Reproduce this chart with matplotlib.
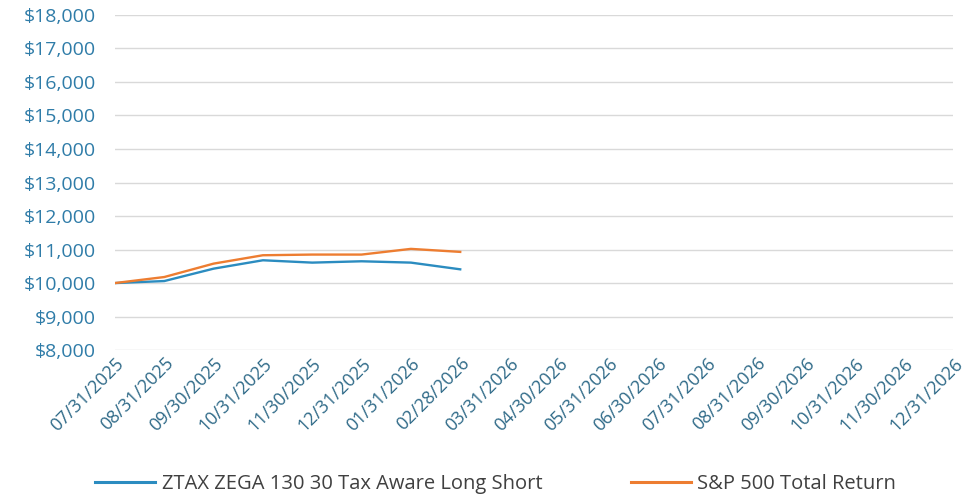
import matplotlib.pyplot as plt

# Datos del gráfico (valor de $10,000 invertidos)
fechas = ['07/31/2025', '08/31/2025', '09/30/2025', '10/31/2025', '11/30/2025', '12/31/2025',
          '01/31/2026', '02/28/2026', '03/31/2026', '04/30/2026', '05/31/2026', '06/30/2026',
          '07/31/2026', '08/31/2026', '09/30/2026', '10/31/2026', '11/30/2026', '12/31/2026']
ztax = [10000, 10060, 10430, 10680, 10610, 10650, 10610, 10410]
sp500 = [10000, 10180, 10580, 10830, 10850, 10850, 11020, 10930]
y_ticks = list(range(8000, 18001, 1000))

plt.rcParams['font.family'] = ['Open Sans', 'DejaVu Sans']

fig = plt.figure(figsize=(9.66, 4.98), dpi=100)
ax = fig.add_axes([0.119, 0.297, 0.868, 0.673])

x = list(range(len(fechas)))
ax.plot(x[:len(ztax)], ztax, color='#2b8cc0', linewidth=1.7,
        label='ZTAX ZEGA 130 30 Tax Aware Long Short')
ax.plot(x[:len(sp500)], sp500, color='#ed7d31', linewidth=1.7,
        label='S&P 500 Total Return')

ax.set_xlim(0, len(fechas) - 1)
ax.set_ylim(8000, 18000)
ax.set_yticks(y_ticks)
ax.set_yticklabels([f'${v:,}' for v in y_ticks], color='#2f7ca8', fontsize=14)
ax.set_xticks(x)
ax.set_xticklabels(fechas, rotation=45, ha='right', rotation_mode='anchor',
                   color='#2f6a88', fontsize=13)
ax.tick_params(axis='y', length=0, pad=14)
ax.tick_params(axis='x', length=0, pad=3)
ax.grid(axis='y', color='#d9d9d9', linewidth=1)
ax.set_axisbelow(True)
for s in ax.spines.values():
    s.set_visible(False)

leg = fig.legend(loc='center', bbox_to_anchor=(0.513, 0.028), ncol=2, frameon=False,
                 fontsize=14.5, handlelength=3.0, handletextpad=0.3, columnspacing=4.4)
for t in leg.get_texts():
    t.set_color('#404040')
for l in leg.get_lines():
    l.set_linewidth(2.2)

plt.savefig('out.png', dpi=100)
